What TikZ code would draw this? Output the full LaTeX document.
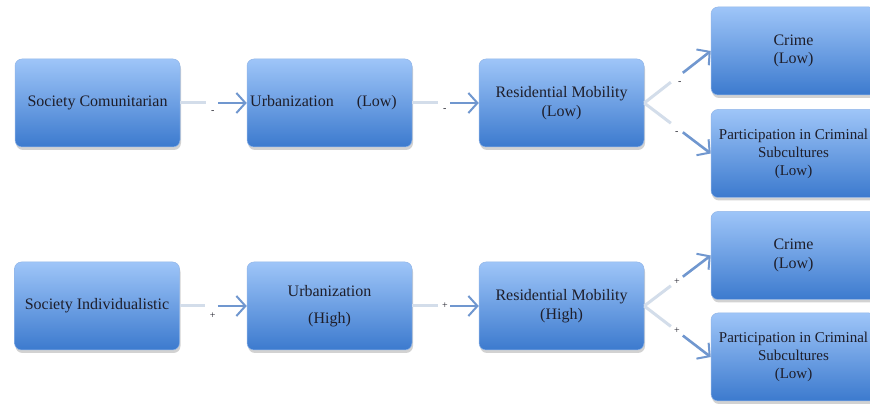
\documentclass[tikz,border=0pt]{standalone}
\usepackage{fontspec}
\setmainfont{Liberation Serif}
\usetikzlibrary{shadows,arrows.meta,calc}
\definecolor{boxtop}{HTML}{9EC5F8}
\definecolor{boxbot}{HTML}{3C7ACE}
\definecolor{boxedge}{HTML}{92B6E8}
\definecolor{txt}{HTML}{1E1E2A}
\definecolor{arlight}{HTML}{D3DDEA}
\definecolor{ardark}{HTML}{7097CF}
\begin{document}
\begin{tikzpicture}[x=1pt,y=1pt,
  box/.style={rectangle, rounded corners=7pt, minimum width=165pt, minimum height=88pt,
    inner xsep=1pt, top color=boxtop, bottom color=boxbot, draw=boxedge, line width=0.5pt,
    drop shadow={opacity=0.35, shadow xshift=1pt, shadow yshift=-3pt},
    align=center, text=txt, font=\fontsize{16}{18.5}\selectfont},
  narrow/.style={font=\fontsize{15}{18}\selectfont},
  linea/.style={arlight, line width=3pt},
  lineb/.style={ardark, line width=2.6pt, -{Straight Barb[length=9pt,width=20pt,line width=2pt]}},
  sgn/.style={font=\fontsize{10}{10}\selectfont, text=txt, inner sep=1pt}
]
\fill[white] (0,0) rectangle (870,404);
\useasboundingbox (0,0) rectangle (870,404);
\begin{scope}
\clip (0,0) rectangle (870,404);
% row 1
\node[box] (a1) at (97.5,301) {Society Comunitarian};
\node[box] (a2) at (329.5,301) {Urbanization\hspace{23pt}(Low)\hspace*{12pt}};
\node[box] (a3) at (561.5,301) {Residential Mobility\\(Low)};
\node[box] (a4) at (793.5,353) {Crime\\(Low)};
\node[box,narrow] (a5) at (793.5,250.5) {Participation in Criminal\\Subcultures\\(Low)};
% row 2
\node[box] (b1) at (97,98) {Society Individualistic};
\node[box] (b2) at (329.5,98) {Urbanization\\[9pt](High)};
\node[box] (b3) at (561.5,98) {Residential Mobility\\(High)};
\node[box] (b4) at (793.5,148.5) {Crime\\(Low)};
\node[box,narrow] (b5) at (793.5,47) {Participation in Criminal\\Subcultures\\(Low)};
\end{scope}
% straight connectors
\foreach \s/\t/\l/\sh in {a1/a2/-/-9, a2/a3/-/-7, b1/b2/+/-10, b2/b3/+/0}{
  \draw[linea] (\s.east) -- ($(\s.east)!0.38!(\t.west)$);
  \draw[lineb] ($(\s.east)!0.57!(\t.west)$) -- (\t.west);
  \node[sgn] at ($($(\s.east)!0.49!(\t.west)$)+(0,\sh)$) {\l};
}
% diagonal connectors
\foreach \s/\t/\l/\dx/\dy in {a3/a4/-/3/-6, a3/a5/-/0/-5, b3/b4/+/0/0, b3/b5/+/0/0}{
  \draw[linea] (\s.east) -- ($(\s.east)!0.40!(\t.west)$);
  \draw[lineb] ($(\s.east)!0.58!(\t.west)$) -- (\t.west);
  \node[sgn] at ($($(\s.east)!0.49!(\t.west)$)+(\dx,\dy)$) {\l};
}
\end{tikzpicture}
\end{document}
